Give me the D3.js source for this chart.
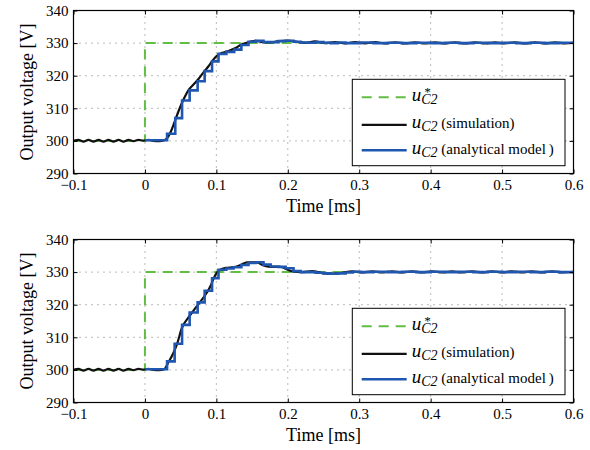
<!DOCTYPE html>
<html>
<head>
<meta charset="utf-8">
<script src="https://cdn.jsdelivr.net/npm/d3@7"></script>
<style>
  body { margin: 0; background: #fff; }
  svg text { font-family: "Liberation Serif", Tinos, serif; }
</style>
</head>
<body>
<svg id="chart" width="590" height="450"></svg>
<script>
// axis ticks
const xTicks = [-0.1, 0, 0.1, 0.2, 0.3, 0.4, 0.5, 0.6];
const yTicks = [290, 300, 310, 320, 330, 340];

// reference u*C2 (same in both panels)
const refSeries = [[-0.1, 300], [0, 300], [0, 330], [0.6, 330]];

// simulated u_C2 before the step (both panels)
const simBefore = [[-0.1, 300.0], [-0.093, 300.3], [-0.086, 299.8], [-0.079, 300.3], [-0.072, 299.8],
  [-0.065, 300.3], [-0.058, 299.8], [-0.051, 300.3], [-0.044, 299.8], [-0.037, 300.3], [-0.030, 299.8],
  [-0.023, 300.3], [-0.016, 299.9], [-0.009, 300.3], [-0.002, 300.1], [0.005, 300.3], [0.012, 300.0],
  [0.02, 299.9], [0.027, 300.2]];

// top panel, simulation
const simTop = [[0.031, 300.8], [0.0355, 302.5], [0.041, 305.5], [0.047, 309.1], [0.054, 312.7],
  [0.061, 315.6], [0.068, 317.3], [0.075, 319.0], [0.082, 321.0], [0.089, 322.9], [0.096, 325.0],
  [0.102, 326.3], [0.108, 327.0], [0.117, 327.6], [0.127, 328.5], [0.134, 329.4], [0.141, 330.0],
  [0.155, 330.7], [0.165, 330.3], [0.175, 330.2], [0.187, 330.6], [0.2, 330.8], [0.213, 330.4],
  [0.226, 330.1], [0.238, 330.5], [0.252, 330.0], [0.266, 330.3], [0.28, 329.9], [0.294, 330.3],
  [0.308, 329.9], [0.322, 330.3], [0.336, 329.9], [0.35, 330.25], [0.364, 329.9], [0.378, 330.25],
  [0.392, 329.9], [0.406, 330.2], [0.42, 329.9], [0.434, 330.2], [0.448, 329.9], [0.462, 330.2],
  [0.476, 329.9], [0.49, 330.2], [0.504, 329.9], [0.518, 330.2], [0.532, 329.9], [0.546, 330.2],
  [0.56, 329.9], [0.574, 330.2], [0.588, 329.9], [0.6, 330.1]];

// top panel, analytical model (sample and hold)
const modelTop = [[0, 300.2], [0.031, 302.2], [0.0425, 307], [0.052, 312.4], [0.0626, 315.5],
  [0.0738, 318.3], [0.0836, 321.4], [0.094, 324.4], [0.103, 326.7], [0.114, 327.3], [0.125, 328],
  [0.135, 329.4], [0.145, 330.4], [0.155, 330.7], [0.166, 330.3], [0.176, 330.3], [0.187, 330.6],
  [0.197, 330.7], [0.208, 330.4], [0.218, 330.2], [0.229, 330.1], [0.239, 330.3], [0.25, 330.1],
  [0.26, 330.0], [0.27, 330.2], [0.281, 330.0], [0.291, 330.0], [0.302, 330.2], [0.32, 330.0],
  [0.34, 330.1], [0.36, 330.0], [0.38, 330.1], [0.4, 330.0], [0.42, 330.1], [0.44, 330.0],
  [0.46, 330.1], [0.48, 330.0], [0.5, 330.1], [0.52, 330.0], [0.54, 330.1], [0.56, 330.0],
  [0.58, 330.1], [0.6, 330.0]];

// bottom panel, simulation
const simBottom = [[0.033, 302.4], [0.039, 304.8], [0.045, 308], [0.052, 313], [0.061, 316.1],
  [0.068, 318.2], [0.075, 320.2], [0.087, 323.8], [0.092, 325.8], [0.096, 328.0], [0.103, 330.4],
  [0.113, 331.3], [0.124, 331.5], [0.134, 332.2], [0.143, 333.0], [0.157, 333.0], [0.166, 332.0],
  [0.176, 331.6], [0.19, 331.6], [0.199, 330.8], [0.208, 330.1], [0.22, 330.0], [0.234, 330.3],
  [0.248, 329.7], [0.262, 329.5], [0.276, 329.8], [0.29, 330.2], [0.304, 329.9], [0.318, 330.2],
  [0.332, 329.9], [0.346, 330.25], [0.36, 329.9], [0.374, 330.2], [0.388, 329.9], [0.402, 330.2],
  [0.416, 329.9], [0.43, 330.2], [0.444, 329.9], [0.458, 330.2], [0.472, 329.9], [0.486, 330.25],
  [0.5, 329.9], [0.514, 330.25], [0.528, 329.9], [0.542, 330.2], [0.556, 329.9], [0.57, 330.2],
  [0.584, 329.9], [0.6, 330.1]];

// bottom panel, analytical model
const modelBottom = [[0, 300.2], [0.031, 302.6], [0.0416, 308], [0.052, 313.8], [0.0626, 317.6],
  [0.0738, 320.7], [0.0836, 324.3], [0.094, 328.1], [0.103, 330.7], [0.114, 331.1], [0.124, 331.5],
  [0.135, 332.2], [0.145, 332.8], [0.155, 333.0], [0.166, 332.3], [0.176, 331.7], [0.187, 331.6],
  [0.197, 331.2], [0.208, 330.3], [0.218, 330.0], [0.229, 330.0], [0.239, 329.8], [0.25, 329.6],
  [0.26, 329.5], [0.27, 329.6], [0.281, 329.9], [0.291, 330.1], [0.302, 330.0], [0.32, 330.1],
  [0.34, 330.0], [0.36, 330.1], [0.38, 330.0], [0.4, 330.1], [0.42, 330.0], [0.44, 330.1],
  [0.46, 330.0], [0.48, 330.1], [0.5, 330.0], [0.52, 330.1], [0.54, 330.0], [0.56, 330.1],
  [0.58, 330.0], [0.6, 330.1]];

const GREEN = "#62bd45", BLACK = "#111", BLUE = "#1f56b0";
const FONT = "'Liberation Serif', Tinos, serif";
const left = 73.5, right = 573.5;

const svg = d3.select("#chart");
const x = d3.scaleLinear().domain([-0.1, 0.6]).range([left, right]);
const fmtX = (d) => (d === 0 ? "0" : d3.format(".1f")(d));

const panels = [
  { top: 10.5, bottom: 173.5, sim: simBefore.concat(simTop), model: modelTop },
  { top: 239.5, bottom: 402.5, sim: simBefore.concat(simBottom), model: modelBottom },
];

panels.forEach((p, i) => {
  const y = d3.scaleLinear().domain([290, 340]).range([p.bottom, p.top]);
  const g = svg.append("g");

  // dotted grid
  g.append("g").selectAll("line").data(xTicks.slice(1, -1)).join("line")
    .attr("x1", (d) => x(d)).attr("x2", (d) => x(d))
    .attr("y1", p.top).attr("y2", p.bottom);
  g.append("g").selectAll("line").data(yTicks.slice(1, -1)).join("line")
    .attr("x1", left).attr("x2", right)
    .attr("y1", (d) => y(d)).attr("y2", (d) => y(d));
  g.selectAll("line")
    .attr("stroke", "#777").attr("stroke-width", 1).attr("stroke-dasharray", "1,5");

  // curves, clipped to the plot box
  svg.append("clipPath").attr("id", "clip" + i).append("rect")
    .attr("x", left).attr("y", p.top).attr("width", right - left).attr("height", p.bottom - p.top);
  const curves = g.append("g").attr("clip-path", `url(#clip${i})`).attr("fill", "none");

  const lin = d3.line().x((d) => x(d[0])).y((d) => y(d[1]));
  curves.append("path").attr("d", lin(refSeries))
    .attr("stroke", GREEN).attr("stroke-width", 2).attr("stroke-dasharray", "10,7");
  curves.append("path").attr("d", lin.curve(d3.curveMonotoneX)(p.sim))
    .attr("stroke", BLACK).attr("stroke-width", 2.2);
  curves.append("path").attr("d", lin.curve(d3.curveStepAfter)(p.model))
    .attr("stroke", BLUE).attr("stroke-width", 2.6);

  // axes with inward ticks on all four sides
  const styleAxis = (a) => {
    a.select(".domain").remove();
    a.attr("font-family", FONT).attr("font-size", 15);
    a.selectAll("line").attr("stroke", "#000");
    a.selectAll("text").attr("fill", "#000");
  };
  g.append("g").attr("transform", `translate(0,${p.bottom})`)
    .call(d3.axisBottom(x).tickValues(xTicks).tickSizeInner(-4).tickSizeOuter(0).tickPadding(6).tickFormat(fmtX))
    .call(styleAxis);
  g.append("g").attr("transform", `translate(0,${p.top})`)
    .call(d3.axisTop(x).tickValues(xTicks).tickSizeInner(-4).tickSizeOuter(0).tickFormat(""))
    .call(styleAxis);
  g.append("g").attr("transform", `translate(${left},0)`)
    .call(d3.axisLeft(y).tickValues(yTicks).tickSizeInner(-4).tickSizeOuter(0).tickPadding(5))
    .call(styleAxis);
  g.append("g").attr("transform", `translate(${right},0)`)
    .call(d3.axisRight(y).tickValues(yTicks).tickSizeInner(-4).tickSizeOuter(0).tickFormat(""))
    .call(styleAxis);

  g.append("rect").attr("x", left).attr("y", p.top)
    .attr("width", right - left).attr("height", p.bottom - p.top)
    .attr("fill", "none").attr("stroke", "#000").attr("stroke-width", 1.2);

  // axis titles
  g.append("text")
    .attr("transform", `translate(33,${(p.top + p.bottom) / 2}) rotate(-90)`)
    .attr("text-anchor", "middle").attr("font-size", 18)
    .text("Output voltage [V]");
  g.append("text")
    .attr("x", (left + right) / 2).attr("y", p.bottom + 38.8)
    .attr("text-anchor", "middle").attr("font-size", 18)
    .text("Time [ms]");

  // legend
  const lw = 212.7, lh = 86.4;
  const lg = g.append("g").attr("transform", `translate(${right - 8.5 - lw},${p.top + 68.8})`);
  lg.append("rect").attr("width", lw).attr("height", lh)
    .attr("fill", "#fff").attr("stroke", "#000").attr("stroke-width", 1);

  const rows = [
    { color: GREEN, dash: "10,7", width: 2, star: true, note: "" },
    { color: BLACK, dash: null, width: 2.2, star: false, note: " (simulation)" },
    { color: BLUE, dash: null, width: 2.6, star: false, note: " (analytical model\u2009)" },
  ];
  const rowY = [18, 45.5, 71];
  rows.forEach((r, k) => {
    const ry = rowY[k];
    lg.append("line").attr("x1", 9.4).attr("x2", 54.4).attr("y1", ry).attr("y2", ry)
      .attr("stroke", r.color).attr("stroke-width", r.width).attr("stroke-dasharray", r.dash);
    const t = lg.append("text").attr("x", 59.4).attr("y", ry + 3.5);
    t.append("tspan").attr("font-style", "italic").attr("font-size", 19).text("u");
    t.append("tspan").attr("font-style", "italic").attr("font-size", 14).attr("dy", 3).text("C2");
    if (r.note) t.append("tspan").attr("font-size", 15).attr("dy", -3).text(r.note);
    if (r.star) {
      lg.append("text").attr("x", 71.5).attr("y", ry - 1)
        .attr("font-style", "italic").attr("font-size", 13).text("*");
    }
  });
});
</script>
</body>
</html>
